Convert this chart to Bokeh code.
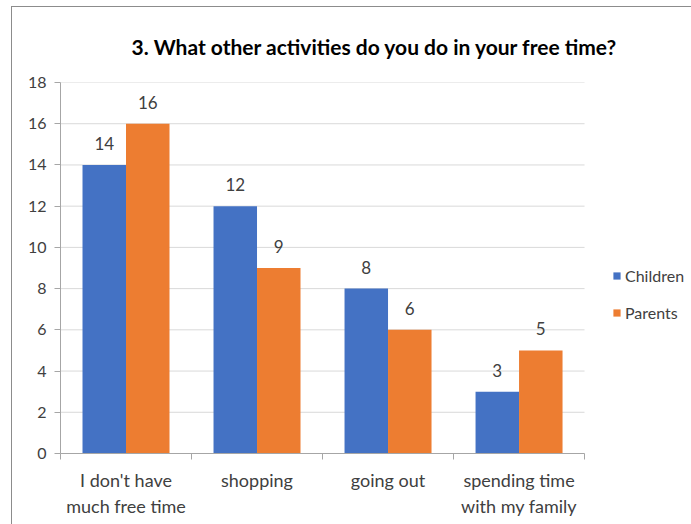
import numpy as np
from bokeh.plotting import figure
from bokeh.models import (Range1d, FixedTicker, ColumnDataSource, LabelSet,
                          Legend, LegendItem)
from bokeh.core.properties import value
from bokeh.embed import file_html
from bokeh.resources import INLINE

title_text = "3. What other activities do you do in your free time?"
categories = ["I don't have\nmuch free time", "shopping", "going out",
              "spending time\nwith my family"]
children = [14, 12, 8, 3]
parents = [16, 9, 6, 5]
series_names = ["Children", "Parents"]
series_colors = ["#4472C4", "#ED7D31"]
y_ticks = [0, 2, 4, 6, 8, 10, 12, 14, 16, 18]

FONT = "Lato"
n = len(categories)
centers = np.arange(n) + 0.5
bar_w = 0.332
legend_room = 0.824  # extra x room on the right (in category widths) for the legend

p = figure(width=680, height=518,
           x_range=Range1d(0, n + legend_room), y_range=Range1d(0, 18),
           output_backend="svg", toolbar_location=None,
           min_border_left=48, min_border_right=0,
           min_border_top=75, min_border_bottom=72)
p.margin = (6, 0, 0, 11)
p.styles = {"border-left": "1px solid #8c8c8c", "border-top": "1px solid #8c8c8c"}
p.outline_line_color = None
p.background_fill_color = "white"
p.border_fill_color = "white"

p.title.text = title_text
p.title.align = "left"
p.title.offset = 71
p.title.text_font = FONT
p.title.text_font_size = "21px"
p.title.text_font_style = "bold"
p.title.text_color = "#000000"
p.title.standoff = 48

# horizontal gridlines limited to the category area
p.segment(x0=0, x1=n, y0=y_ticks, y1=y_ticks, line_color="#d9d9d9",
          line_width=1, level="underlay")

renderers = []
for i, (vals, name, col) in enumerate(zip([children, parents], series_names, series_colors)):
    xs = centers + (i - 0.5) * bar_w
    src = ColumnDataSource(dict(x=xs, top=vals, label=[str(v) for v in vals]))
    r = p.vbar(x="x", top="top", width=bar_w, bottom=0, source=src,
               fill_color=col, line_color=None)
    renderers.append((name, r))
    p.add_layout(LabelSet(x="x", y="top", text="label", source=src,
                          text_align="center", text_baseline="bottom",
                          y_offset=15, text_font=value(FONT), text_font_size="17px",
                          text_color="#404040"))

legend = Legend(items=[LegendItem(label=nm, renderers=[r]) for nm, r in renderers],
                location=(552, 131), orientation="vertical",
                glyph_width=9, glyph_height=9, label_text_font=FONT,
                label_text_font_size="16px", label_text_color="#404040",
                spacing=18, padding=0, margin=0, border_line_color=None,
                background_fill_alpha=0, label_standoff=4)
p.add_layout(legend)

# y axis
p.yaxis.ticker = FixedTicker(ticks=y_ticks)
p.yaxis.axis_line_color = "#a6a6a6"
p.yaxis.major_tick_line_color = "#a6a6a6"
p.yaxis.major_tick_out = 6
p.yaxis.major_tick_in = 0
p.yaxis.minor_tick_line_color = None
p.yaxis.major_label_text_font = FONT
p.yaxis.major_label_text_font_size = "16px"
p.yaxis.major_label_text_color = "#404040"
p.yaxis.major_label_standoff = 8

# x axis
p.xaxis.bounds = (0, n)
p.xaxis.ticker = FixedTicker(ticks=list(centers), minor_ticks=list(range(n + 1)))
p.xaxis.major_label_overrides = {float(c): lab for c, lab in zip(centers, categories)}
p.xaxis.axis_line_color = "#a6a6a6"
p.xaxis.major_tick_line_color = None
p.xaxis.major_tick_out = 0
p.xaxis.major_tick_in = 0
p.xaxis.minor_tick_line_color = "#a6a6a6"
p.xaxis.minor_tick_out = 6
p.xaxis.minor_tick_in = 0
p.xaxis.major_label_text_font = FONT
p.xaxis.major_label_text_font_size = "18px"
p.xaxis.major_label_text_color = "#404040"
p.xaxis.major_label_standoff = 9

p.xgrid.grid_line_color = None
p.ygrid.grid_line_color = None

open("out.html", "w").write(file_html(p, INLINE))
